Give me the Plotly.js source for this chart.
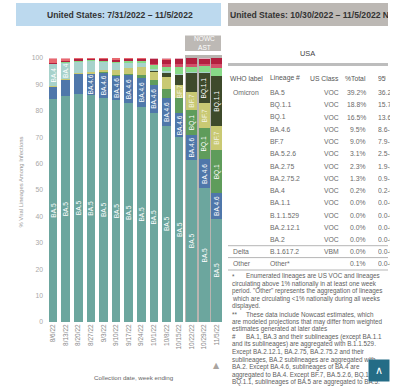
<!DOCTYPE html>
<html><head><meta charset="utf-8">
<script src="https://cdn.plot.ly/plotly-3.0.1.min.js"></script>
<style>html,body{margin:0;padding:0;background:#fff;overflow:hidden}#chart{width:400px;height:391px}</style>
</head><body><div id="chart"></div>
<script>
// ---------- DATA ----------
const weeks = ['8/6/22','8/13/22','8/20/22','8/27/22','9/3/22','9/10/22','9/17/22','9/24/22','10/1/22','10/8/22','10/15/22','10/22/22','10/29/22','11/5/22'];
const lineages = ['BA.5','BA.4.6','BQ.1','BF.7','BQ.1.1','BA.4','BA.5.2.6','BA.2.75.2','BA.2.75','BA.2.12.1','BA.2','Other'];
const BA5      = [84.5,85.6,86.4,86.1,85.0,84.1,82.8,81.6,79.3,74.4,70.0,61.4,50.6,39.2];
const BA46     = [4.6,6.1,7.5,7.8,9.3,9.1,10.8,10.9,10.5,10.3,9.0,9.4,11.0,9.5];
const BQ1      = [0,0,0,0,0.2,0.3,0.3,0.9,1.7,3.7,5.7,9.5,11.8,16.5];
const BF7      = [0.3,0.5,0.4,0.9,1.0,1.8,2.3,3.0,3.0,4.5,5.1,6.9,9.5,9.0];
const BQ11     = [0,0,0,0,0,0.1,0.1,0.3,0.4,1.5,3.8,7.0,11.4,18.8];
const BA4      = [8.2,6.0,4.3,3.9,3.0,2.6,1.9,1.3,1.0,0.6,0.5,0.3,0.3,0.2];
const BA526    = [0.2,0.3,0.4,0.4,0.5,0.5,0.5,0.8,1.5,1.6,2.4,2.0,2.2,3.1];
const BA2752   = [0,0,0,0,0,0,0.1,0.1,0.4,1.0,1.2,1.1,1.0,1.3];
const BA275    = [0.2,0.3,0.5,0.4,0.6,0.8,0.9,0.9,1.8,1.8,2.0,2.3,2.0,2.3];
const BA2121   = [1.8,1.0,0.5,0.5,0.4,0.7,0.3,0.2,0.1,0.2,0.1,0,0,0];
const BA2      = [0.2,0.2,0,0,0,0,0,0,0,0,0,0,0,0];
const OTHER    = [0,0,0,0,0,0,0,0,0.3,0.4,0.2,0.1,0.2,0.1];
const nowcastWeeks = ['10/22/22','10/29/22','11/5/22'];

// bar labels shown inside segments
const lblBA5   = weeks.map(()=> 'BA.5');
const lblBA46  = ['','','','BA.4.6','BA.4.6','BA.4.6','BA.4.6','BA.4.6','BA.4.6','BA.4.6','BA.4.6','BA.4.6','BA.4.6','BA.4.6'];
const lblBA4   = ['BA.4','BA.4','','','','','','','','','','','',''];
const lblBQ1   = ['','','','','','','','','','','','BQ.1','BQ.1','BQ.1'];
const lblBF7   = ['','','','','','','','','','','BF.7','BF.7','BF.7','BF.7'];
const lblBQ11  = ['','','','','','','','','','','','','BQ.1.1','BQ.1.1'];

// table (10/30/2022 - 11/5/2022)
const tblWho     = ['Omicron','','','','','','','','','','','','','Delta','Other'];
const tblLineage = ['BA.5','BQ.1.1','BQ.1','BA.4.6','BF.7','BA.5.2.6','BA.2.75','BA.2.75.2','BA.4','BA.1.1','B.1.1.529','BA.2.12.1','BA.2','B.1.617.2','Other*'];
const tblClass   = ['VOC','VOC','VOC','VOC','VOC','VOC','VOC','VOC','VOC','VOC','VOC','VOC','VOC','VBM',''];
const tblTotal   = ['39.2%','18.8%','16.5%','9.5%','9.0%','3.1%','2.3%','1.3%','0.2%','0.0%','0.0%','0.0%','0.0%','0.0%','0.1%'];
const tblPI      = ['36.2-42.3%','15.7-22.3%','13.6-19.8%','8.6-10.5%','7.9-10.2%','2.5-3.8%','1.9-2.8%','0.9-1.8%','0.2-0.3%','0.0-0.0%','0.0-0.0%','0.0-0.0%','0.0-0.0%','0.0-0.0%','0.0-0.2%'];
const footnotes = [
 ['*','Enumerated lineages are US VOC and lineages'],
 ['','circulating above 1% nationally in at least one week'],
 ['','period. "Other" represents the aggregation of lineages'],
 ['','which are circulating <1% nationally during all weeks'],
 ['','displayed.'],
 ['**','These data include Nowcast estimates, which'],
 ['','are modeled projections that may differ from weighted'],
 ['','estimates generated at later dates'],
 ['#','BA.1, BA.3 and their sublineages (except BA.1.1'],
 ['','and its sublineages) are aggregated with B.1.1.529.'],
 ['','Except BA.2.12.1, BA.2.75, BA.2.75.2 and their'],
 ['','sublineages, BA.2 sublineages are aggregated with'],
 ['','BA.2. Except BA.4.6, sublineages of BA.4 are'],
 ['','aggregated to BA.4. Except BF.7, BA.5.2.6, BQ.1 and'],
 ['','BQ.1.1, sublineages of BA.5 are aggregated to BA.5.']
];

// ---------- STYLE ----------
const FONT = 'Liberation Sans, Arial, sans-serif';
const W = 400, H = 391;
const px = x => x / W, py = y => 1 - y / H;
const colors = {
 'BA.5':'#6ca69e','BA.4.6':'#4f77aa','BQ.1':'#5f9c5b','BF.7':'#c9c973','BQ.1.1':'#3e4a2b',
 'BA.4':'#a7d2cb','BA.5.2.6':'#88da88','BA.2.75.2':'#d2506a','BA.2.75':'#b3203f',
 'BA.2.12.1':'#e7686f','BA.2':'#f0a7b0','Other':'#e6b3c2'
};
const series = [BA5,BA46,BQ1,BF7,BQ11,BA4,BA526,BA2752,BA275,BA2121,BA2,OTHER];
const labels = [lblBA5,lblBA46,lblBQ1,lblBF7,lblBQ11,lblBA4,null,null,null,null,null,null];
const widths = weeks.map(w => nowcastWeeks.includes(w) ? 0.86 : 0.68);

const traces = lineages.map((name,i) => ({
  type:'bar', name, x:weeks, y:series[i],
  marker:{color:colors[name], line:{width:0}},
  width:widths,
  text: labels[i] || weeks.map(()=>''),
  textposition:'inside', insidetextanchor:'middle', textangle:-90,
  constraintext:'none',
  textfont:{family:FONT, size:6.6, color: name==='BF.7' ? '#f3f3e6' : '#ffffff'},
  hoverinfo:'skip'
}));

const shapes = [];
const ann = [];
// left title box
shapes.push({type:'rect',xref:'paper',yref:'paper',x0:px(16),x1:px(221),y0:py(26),y1:py(3),fillcolor:'#bcd9ee',line:{width:0},layer:'below'});
ann.push({xref:'paper',yref:'paper',x:px(120),y:py(15),text:'<b>United States: 7/31/2022 – 11/5/2022</b>',showarrow:false,font:{family:FONT,size:8.6,color:'#333'},xanchor:'center',yanchor:'middle'});
// nowcast background + label
shapes.push({type:'rect',xref:'paper',yref:'paper',x0:px(185),x1:px(222),y0:py(322),y1:py(55),fillcolor:'#b9b5b1',line:{width:0},layer:'below'});
shapes.push({type:'rect',xref:'paper',yref:'paper',x0:px(185),x1:px(221),y0:py(51),y1:py(35.5),fillcolor:'#bdb9b5',line:{width:0},layer:'below'});
ann.push({xref:'paper',yref:'paper',x:px(204),y:py(43.3),text:'NOWC<br>AST',showarrow:false,font:{family:FONT,size:6.6,color:'#ffffff'},xanchor:'center',yanchor:'middle'});
// axis titles
ann.push({xref:'paper',yref:'paper',x:px(20.5),y:py(182),text:'% Viral Lineages Among Infections',textangle:-90,showarrow:false,font:{family:FONT,size:5.9,color:'#9a9a9a'},xanchor:'center',yanchor:'middle'});
ann.push({xref:'paper',yref:'paper',x:px(134),y:py(377),text:'Collection date, week ending',showarrow:false,font:{family:FONT,size:6.2,color:'#666'},xanchor:'center',yanchor:'middle'});
ann.push({xref:'paper',yref:'paper',x:px(216.5),y:py(365),text:'▲',showarrow:false,font:{family:'DejaVu Sans',size:8,color:'#aaa49f'},xanchor:'center',yanchor:'middle'});

// right panel title
shapes.push({type:'rect',xref:'paper',yref:'paper',x0:px(228),x1:px(388),y0:py(26),y1:py(3),fillcolor:'#bcb8b4',line:{width:0},layer:'below'});
ann.push({xref:'paper',yref:'paper',x:px(229),y:py(15),text:'<b>United States: 10/30/2022 – 11/5/2022 Nowcast Estimates</b>',showarrow:false,font:{family:FONT,size:8.6,color:'#333'},xanchor:'left',yanchor:'middle',align:'left',width:158,borderpad:0});
ann.push({xref:'paper',yref:'paper',x:px(307),y:py(54),text:'USA',showarrow:false,font:{family:FONT,size:7.4,color:'#444'},xanchor:'center',yanchor:'middle'});
shapes.push({type:'line',xref:'paper',yref:'paper',x0:px(228),x1:px(388),y0:py(64.5),y1:py(64.5),line:{color:'#bdbdbd',width:3}});
// headers
const hdrY = 78;
const hf = {family:FONT,size:6.8,color:'#555'};
ann.push({xref:'paper',yref:'paper',x:px(228),y:py(hdrY),text:'WHO label',showarrow:false,font:hf,xanchor:'left',yanchor:'middle'});
ann.push({xref:'paper',yref:'paper',x:px(268),y:py(hdrY),text:'Lineage #',showarrow:false,font:hf,xanchor:'left',yanchor:'middle'});
ann.push({xref:'paper',yref:'paper',x:px(340.5),y:py(hdrY),text:'US Class',showarrow:false,font:hf,xanchor:'right',yanchor:'middle'});
ann.push({xref:'paper',yref:'paper',x:px(367.5),y:py(hdrY),text:'%Total',showarrow:false,font:hf,xanchor:'right',yanchor:'middle'});
ann.push({xref:'paper',yref:'paper',x:px(377),y:py(hdrY),text:'95%PI',showarrow:false,font:hf,xanchor:'left',yanchor:'middle',align:'left',width:8,borderpad:0});
// rows
const cf = {family:FONT,size:6.8,color:'#6a6a6a'};
tblLineage.forEach((lin,k) => {
  const y = k < 13 ? 92.7 + 12.25*k : (k === 13 ? 251.8 : 263.6);
  if (tblWho[k]) ann.push({xref:'paper',yref:'paper',x:px(231),y:py(y),text:tblWho[k],showarrow:false,font:cf,xanchor:'left',yanchor:'middle'});
  ann.push({xref:'paper',yref:'paper',x:px(268),y:py(y),text:lin,showarrow:false,font:cf,xanchor:'left',yanchor:'middle'});
  if (tblClass[k]) ann.push({xref:'paper',yref:'paper',x:px(340.5),y:py(y),text:tblClass[k],showarrow:false,font:cf,xanchor:'right',yanchor:'middle'});
  ann.push({xref:'paper',yref:'paper',x:px(367.5),y:py(y),text:tblTotal[k],showarrow:false,font:cf,xanchor:'right',yanchor:'middle'});
  ann.push({xref:'paper',yref:'paper',x:px(377),y:py(y),text:tblPI[k],showarrow:false,font:cf,xanchor:'left',yanchor:'middle',align:'left',width:12,borderpad:0});
});
[245.7,257.6,270].forEach(y => shapes.push({type:'line',xref:'paper',yref:'paper',x0:px(228),x1:px(388),y0:py(y),y1:py(y),line:{color:'#b5b5b5',width:1}}));
// footnotes
const ff = {family:FONT,size:6.3,color:'#5e5e5e'};
footnotes.forEach((f,i) => {
  const y = 276 + 7.6*i;
  if (f[0]) {
    ann.push({xref:'paper',yref:'paper',x:px(230),y:py(y),text:f[0],showarrow:false,font:ff,xanchor:'left',yanchor:'middle'});
    ann.push({xref:'paper',yref:'paper',x:px(243.5),y:py(y),text:f[1],showarrow:false,font:ff,xanchor:'left',yanchor:'middle'});
  } else {
    ann.push({xref:'paper',yref:'paper',x:px(230),y:py(y),text:f[1],showarrow:false,font:ff,xanchor:'left',yanchor:'middle'});
  }
});
// scroll-to-top button (drawn last, over text)
ann.push({xref:'paper',yref:'paper',x:px(378.5),y:py(370.2),text:'∧',showarrow:false,font:{family:'DejaVu Sans',size:11,color:'#ffffff'},xanchor:'center',yanchor:'middle',width:20,height:21,bgcolor:'#246c86',borderpad:0,align:'center',valign:'middle'});

const layout = {
  width:W, height:H, autosize:false,
  margin:{l:0,r:0,t:0,b:0},
  paper_bgcolor:'#ffffff', plot_bgcolor:'rgba(0,0,0,0)',
  barmode:'stack', showlegend:false,
  font:{family:FONT},
  xaxis:{domain:[px(46),px(222)], type:'category', categoryorder:'array', categoryarray:weeks,
         range:[-0.556,13.41], tickangle:-90, tickfont:{family:FONT,size:6.5,color:'#888'},
         showgrid:false, zeroline:false, showline:false, ticks:'', fixedrange:true},
  yaxis:{domain:[py(322),py(54.8)], range:[0,101.2], tickvals:[0,10,20,30,40,50,60,70,80,90,100],
         ticksuffix:'%', tickfont:{family:FONT,size:6.8,color:'#a8a8a8'}, ticklabelstandoff:2,
         showgrid:false, zeroline:false, showline:false, ticks:'', fixedrange:true},
  shapes, annotations:ann
};
Plotly.newPlot('chart', traces, layout, {staticPlot:true, displayModeBar:false});
</script>
</body></html>
